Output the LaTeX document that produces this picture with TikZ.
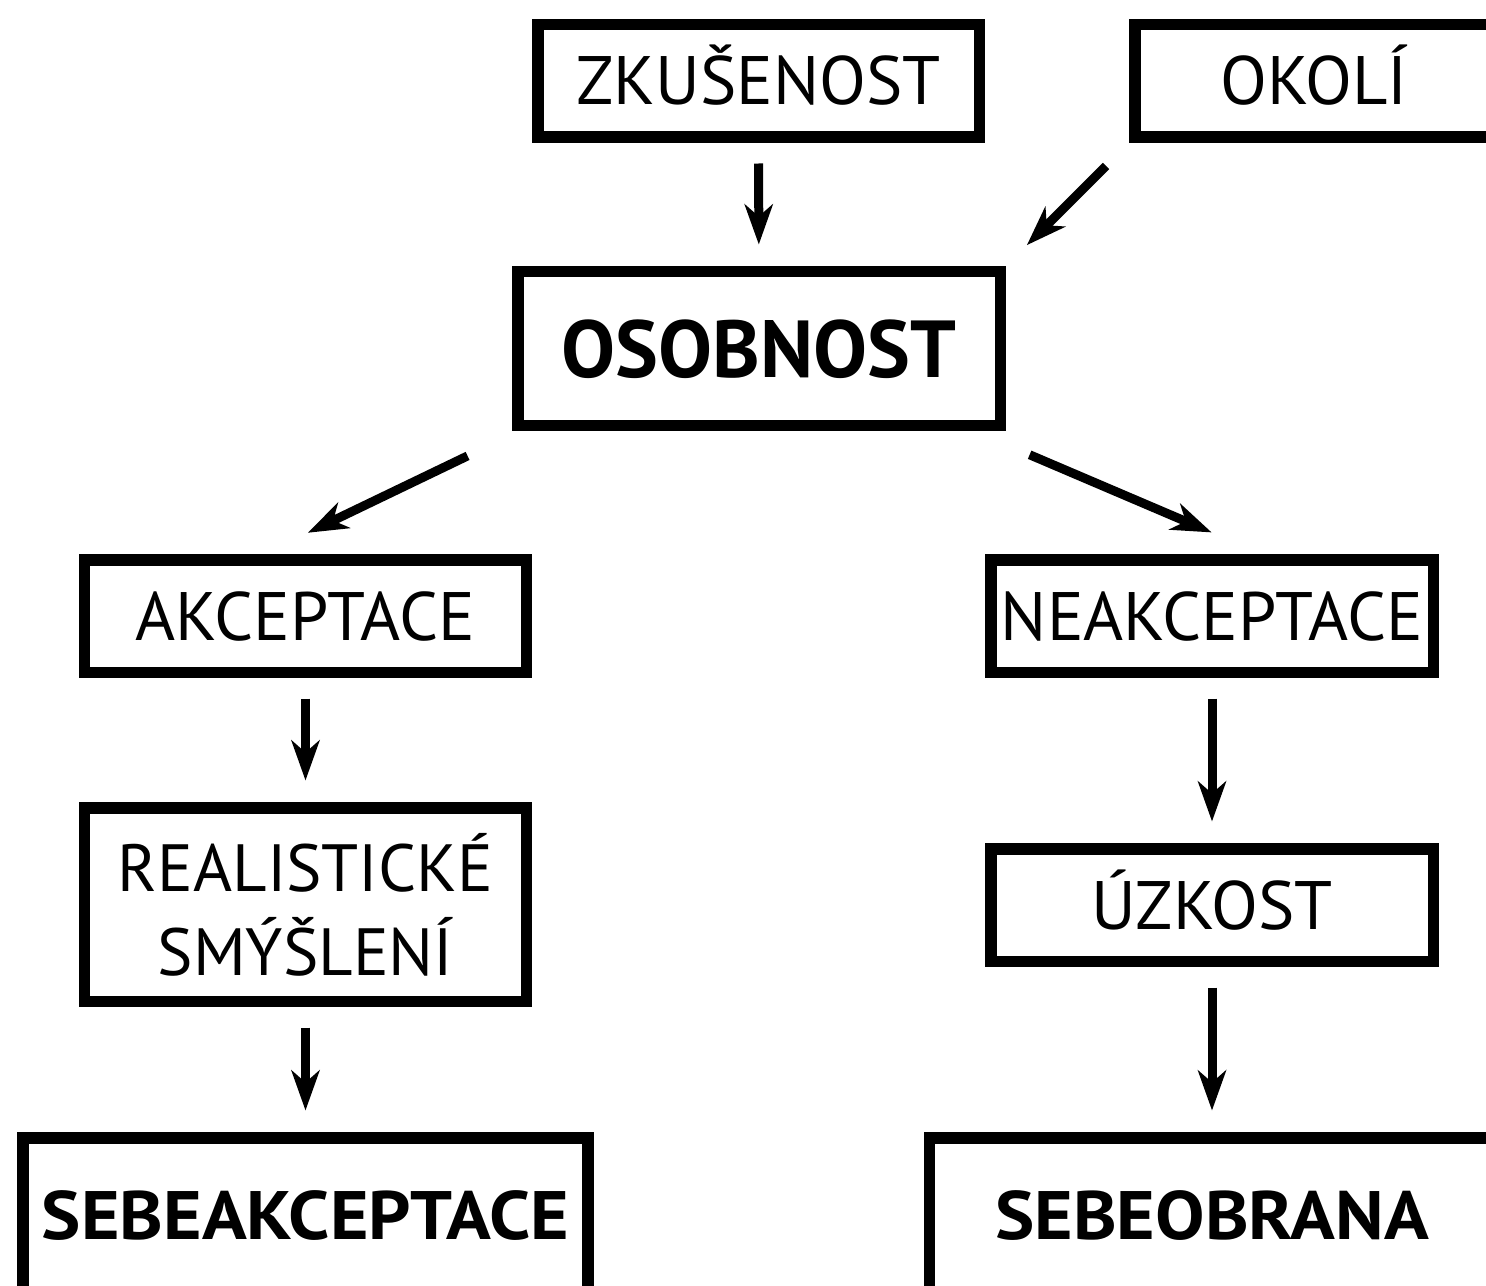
\documentclass[tikz,border=0pt]{standalone}
\usepackage{fontspec}
\setmainfont{PT Sans}
\newfontfamily\widesans{PT Sans}[FakeStretch=1.08]
\usetikzlibrary{arrows.meta}

\begin{document}
\begin{tikzpicture}[x=0.2mm,y=-0.2mm,
    box/.style={draw,line width=2.3mm,inner sep=0pt,minimum width=88.3mm,minimum height=22.5mm,
      text height=9.6mm,text depth=0pt,font=\fontsize{39}{47}\selectfont},
    bigbox/.style={box,minimum width=113mm,minimum height=31.3mm,text height=9.4mm,
      font=\widesans\fontsize{39}{46}\selectfont\bfseries},
    arr/.style={-{Stealth[length=8mm,width=5.6mm,inset=2.4mm]},line width=1.8mm}]
    \useasboundingbox (0,0) rectangle (1486,1285);
    \clip (0,0) rectangle (1486,1285);
    % Top row
    \node[box] (zkusenost) at (758.5,81) {ZKUŠENOST};
    \node[box,minimum width=71.7mm] (okoli) at (1314,81) {OKOLÍ};
    \node[box,minimum width=96.5mm,minimum height=30.7mm,text height=11.4mm,
      font=\fontsize{46}{55}\selectfont\bfseries] (osobnost) at (759,348.5) {OSOBNOST};
    % Left branch
    \node[box] (akceptace) at (305.5,616) {AKCEPTACE};
    \node[box,minimum height=38.7mm,text height=,text depth=,align=center,
      font=\fontsize{38}{47.8}\selectfont] (realisticke) at (305.5,904.5) {REALISTICKÉ\\SMÝŠLENÍ};
    \node[bigbox] (sebeakceptace) at (305.5,1216) {SEBEAKCEPTACE};
    % Right branch
    \node[box,minimum width=88.5mm] (neakceptace) at (1212,616) {NEAKCEPTACE};
    \node[box,minimum width=88.5mm] (uzkost) at (1212,905) {ÚZKOST};
    \node[bigbox] (sebeobrana) at (1212,1216) {SEBEOBRANA};
    % Arrows
    \foreach \a/\b in {zkusenost/osobnost,akceptace/realisticke,realisticke/sebeakceptace,
      neakceptace/uzkost,uzkost/sebeobrana}
      \draw[arr,shorten <=4.1mm,shorten >=4.3mm] (\a) -- (\b);
    \draw[arr,shorten <=6.5mm,shorten >=5.9mm] (okoli.south west) -- (osobnost.north east);
    \draw[arr,shorten <=11.5mm,shorten >=9.8mm] (osobnost.199) -- (akceptace.124.4);
    \draw[arr,shorten <=12.1mm,shorten >=11mm] (osobnost.339) -- (neakceptace.51.3);
  \end{tikzpicture}
\end{document}
